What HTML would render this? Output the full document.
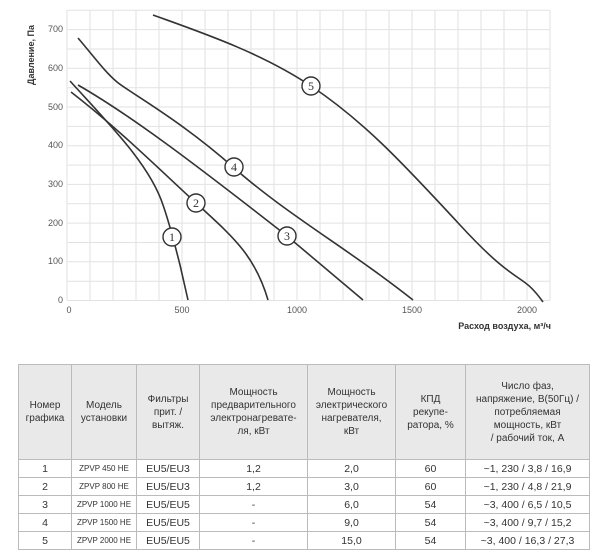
<!DOCTYPE html>
<html><head><meta charset="utf-8"><style>
body{margin:0;width:600px;height:560px;background:#fff;overflow:hidden;font-family:"Liberation Sans",sans-serif}
table{position:absolute;left:18px;top:364px;border-collapse:collapse;width:572px;font-family:"Liberation Sans Narrow","Liberation Sans",sans-serif;color:#333}
td{border:1px solid #bbb;text-align:center;padding:0;font-size:10.5px}
tr.h td{background:#e9e9e9;height:94px;line-height:13px;font-size:10px}
tr.r td{height:17px}
td.m{font-size:8px}
</style></head><body>
<svg width="600" height="360" style="position:absolute;left:0;top:0" font-family="Liberation Sans, sans-serif">
<g stroke="#e2e2e2" stroke-width="1">
<line x1="67" y1="10" x2="67" y2="300"/><line x1="90" y1="10" x2="90" y2="300"/><line x1="113" y1="10" x2="113" y2="300"/><line x1="136" y1="10" x2="136" y2="300"/><line x1="159" y1="10" x2="159" y2="300"/><line x1="182" y1="10" x2="182" y2="300"/><line x1="205" y1="10" x2="205" y2="300"/><line x1="228" y1="10" x2="228" y2="300"/><line x1="251" y1="10" x2="251" y2="300"/><line x1="274" y1="10" x2="274" y2="300"/><line x1="297" y1="10" x2="297" y2="300"/><line x1="320" y1="10" x2="320" y2="300"/><line x1="343" y1="10" x2="343" y2="300"/><line x1="366" y1="10" x2="366" y2="300"/><line x1="389" y1="10" x2="389" y2="300"/><line x1="412" y1="10" x2="412" y2="300"/><line x1="435" y1="10" x2="435" y2="300"/><line x1="458" y1="10" x2="458" y2="300"/><line x1="481" y1="10" x2="481" y2="300"/><line x1="504" y1="10" x2="504" y2="300"/><line x1="527" y1="10" x2="527" y2="300"/><line x1="550" y1="10" x2="550" y2="300"/>
<line x1="67" y1="10.3" x2="550" y2="10.3"/><line x1="67" y1="29.6" x2="550" y2="29.6"/><line x1="67" y1="49" x2="550" y2="49"/><line x1="67" y1="68.3" x2="550" y2="68.3"/><line x1="67" y1="87.7" x2="550" y2="87.7"/><line x1="67" y1="107" x2="550" y2="107"/><line x1="67" y1="126.4" x2="550" y2="126.4"/><line x1="67" y1="145.7" x2="550" y2="145.7"/><line x1="67" y1="165.1" x2="550" y2="165.1"/><line x1="67" y1="184.4" x2="550" y2="184.4"/><line x1="67" y1="203.8" x2="550" y2="203.8"/><line x1="67" y1="223.1" x2="550" y2="223.1"/><line x1="67" y1="242.5" x2="550" y2="242.5"/><line x1="67" y1="261.8" x2="550" y2="261.8"/><line x1="67" y1="281.2" x2="550" y2="281.2"/><line x1="67" y1="300.5" x2="550" y2="300.5"/>
</g>
<g font-size="9" fill="#555" text-anchor="end">
<text x="63" y="303">0</text><text x="63" y="264">100</text><text x="63" y="226">200</text><text x="63" y="187">300</text><text x="63" y="148">400</text><text x="63" y="110">500</text><text x="63" y="71">600</text><text x="63" y="32">700</text>
</g>
<g font-size="9" fill="#555" text-anchor="middle">
<text x="69" y="313">0</text><text x="182" y="313">500</text><text x="297" y="313">1000</text><text x="412" y="313">1500</text><text x="527" y="313">2000</text>
</g>
<text transform="translate(34,55) rotate(-90)" font-size="9" font-weight="bold" fill="#333" text-anchor="middle">Давление, Па</text>
<text x="551" y="329" font-size="9" font-weight="bold" fill="#333" text-anchor="end">Расход воздуха, м³/ч</text>
<g fill="none" stroke="#333" stroke-width="1.6">
<path d="M153,15 C200,32 260,52 311,86 S400,160 460,225 S520,270 543,302"/>
<path d="M78,38 C95,58 105,72 117,82 S180,120 233,167 S350,250 413,300"/>
<path d="M78,85 C130,115 190,160 287,236 L363,300"/>
<path d="M71,92 C120,130 160,170 196,203 S255,255 268,300"/>
<path d="M70,81 C110,125 150,165 163,205 C170,225 175,245 180,265 L188,300"/>
</g>
<g fill="#fff" stroke="#333" stroke-width="1.4">
<circle cx="172" cy="237" r="9"/><circle cx="196" cy="203" r="9"/><circle cx="287" cy="236" r="9"/><circle cx="234" cy="167" r="9"/><circle cx="311" cy="86" r="9"/>
</g>
<g font-family="Liberation Serif, serif" font-size="12" fill="#333" text-anchor="middle">
<text x="172" y="241">1</text><text x="196" y="207">2</text><text x="287" y="240">3</text><text x="234" y="171">4</text><text x="311" y="90">5</text>
</g>
</svg>
<table>
<colgroup><col style="width:53px"><col style="width:65px"><col style="width:63px"><col style="width:108px"><col style="width:88px"><col style="width:70px"><col></colgroup>
<tr class="h"><td>Номер<br>графика</td><td>Модель<br>установки</td><td>Фильтры<br>прит. /<br>вытяж.</td><td>Мощность<br>предварительного<br>электронагревате-<br>ля, кВт</td><td>Мощность<br>электрического<br>нагревателя,<br>кВт</td><td>КПД<br>рекупе-<br>ратора, %</td><td>Число фаз,<br>напряжение, В(50Гц) /<br>потребляемая<br>мощность, кВт<br>/ рабочий ток, А</td></tr>
<tr class="r"><td>1</td><td class="m">ZPVP 450 HE</td><td>EU5/EU3</td><td>1,2</td><td>2,0</td><td>60</td><td>~1, 230 / 3,8 / 16,9</td></tr>
<tr class="r"><td>2</td><td class="m">ZPVP 800 HE</td><td>EU5/EU3</td><td>1,2</td><td>3,0</td><td>60</td><td>~1, 230 / 4,8 / 21,9</td></tr>
<tr class="r"><td>3</td><td class="m">ZPVP 1000 HE</td><td>EU5/EU5</td><td>-</td><td>6,0</td><td>54</td><td>~3, 400 / 6,5 / 10,5</td></tr>
<tr class="r"><td>4</td><td class="m">ZPVP 1500 HE</td><td>EU5/EU5</td><td>-</td><td>9,0</td><td>54</td><td>~3, 400 / 9,7 / 15,2</td></tr>
<tr class="r"><td>5</td><td class="m">ZPVP 2000 HE</td><td>EU5/EU5</td><td>-</td><td>15,0</td><td>54</td><td>~3, 400 / 16,3 / 27,3</td></tr>
</table>
</body></html>
